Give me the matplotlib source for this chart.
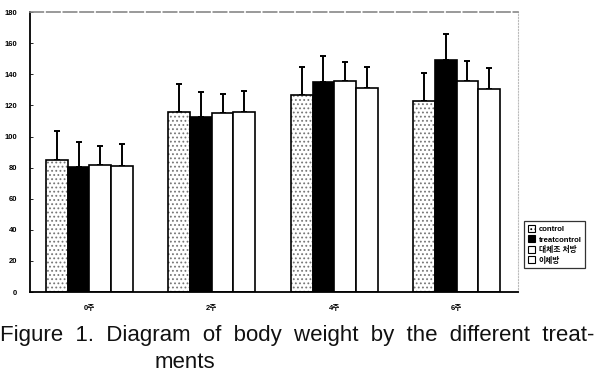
#!/usr/bin/env python3
"""Body weight by treatment: grouped bars with SD whiskers, scanned-figure look."""

import matplotlib
matplotlib.use("Agg")
import matplotlib.pyplot as plt
from matplotlib.patches import Patch
import numpy as np

# -------- Data ------------------------------------------------------------ #

weeks = ["0주", "2주", "4주", "6주"]
series_names = ["control", "treatcontrol", "대체초 처방", "이체방"]

control = [85, 116, 127, 123]
treat_control = [80.5, 112.5, 135, 149]
treat_a = [82, 115, 136, 136]
treat_b = [81, 115.5, 131, 130.5]

control_sd = [18.5, 18, 18, 18]
treat_control_sd = [16, 16, 17, 17]
treat_a_sd = [12, 12.5, 12, 12.5]
treat_b_sd = [14.5, 13.5, 14, 13.5]

y_ticks = [0, 20, 40, 60, 80, 100, 120, 140, 160, 180]

# -------- Styling --------------------------------------------------------- #

plt.rcParams["font.family"] = ["Liberation Sans", "Noto Sans CJK KR", "DejaVu Sans"]
plt.rcParams["hatch.linewidth"] = 0.8

STYLES = [
    dict(facecolor="white", hatch="....", hatch_color="#777777"),
    dict(facecolor="black", hatch=None, hatch_color=None),
    dict(facecolor="white", hatch=None, hatch_color=None),
    dict(facecolor="white", hatch=None, hatch_color=None),
]


def main() -> None:
    fig = plt.figure(figsize=(5.98, 3.92), dpi=100)
    ax = fig.add_axes([0.050, 0.255, 0.816, 0.714])

    values = [control, treat_control, treat_a, treat_b]
    errors = [control_sd, treat_control_sd, treat_a_sd, treat_b_sd]
    x = np.arange(len(weeks))
    width = 0.177

    for i, (vals, errs, st) in enumerate(zip(values, errors, STYLES)):
        pos = x + (i - 1.5) * width
        bars = ax.bar(pos, vals, width=width, color=st["facecolor"],
                      edgecolor="black", linewidth=1.2, zorder=2)
        if st["hatch"]:
            for b in bars:
                b.set_hatch(st["hatch"])
                b._hatch_color = matplotlib.colors.to_rgba(st["hatch_color"])
        ax.errorbar(pos, vals, yerr=[np.zeros(len(errs)), errs], fmt="none",
                    ecolor="black", elinewidth=1.4, capsize=2, capthick=1.4,
                    zorder=1)

    ax.set_xlim(-0.486, 3.50)
    ax.set_ylim(0, 180)
    ax.set_yticks(y_ticks)
    ax.set_yticklabels([str(t) for t in y_ticks], fontsize=5.5, fontweight="bold")
    ax.set_xticks(x)
    ax.set_xticklabels(weeks, fontsize=5.5, fontweight="bold")
    ax.tick_params(axis="y", direction="in", length=2, width=0.6, pad=9)
    ax.tick_params(axis="x", length=0, pad=9)

    ax.spines["left"].set_linewidth(1.3)
    ax.spines["bottom"].set_linewidth(1.3)
    ax.spines["top"].set_color("#888888")
    ax.spines["top"].set_linestyle((0, (8, 2)))
    ax.spines["top"].set_linewidth(1.2)
    ax.spines["right"].set_color("#bbbbbb")
    ax.spines["right"].set_linestyle(":")
    ax.spines["right"].set_linewidth(0.8)

    handles = []
    for name, st in zip(series_names, STYLES):
        handles.append(Patch(facecolor=st["facecolor"], edgecolor="black",
                             hatch=st["hatch"], linewidth=0.8, label=name))
    leg = fig.legend(handles=handles, loc="upper left",
                     bbox_to_anchor=(0.870, 0.445), fontsize=5.6,
                     frameon=True, fancybox=False, edgecolor="black",
                     handlelength=1.0, handleheight=1.0, handletextpad=0.4,
                     labelspacing=0.3, borderpad=0.45)
    leg.get_frame().set_linewidth(0.9)
    for t in leg.get_texts():
        t.set_fontweight("bold")

    fig.text(0.0, 0.145,
             "Figure  1.  Diagram  of  body  weight  by  the  different  treat-",
             fontsize=16, ha="left", va="center", color="#111111")
    fig.text(0.258, 0.076, "ments", fontsize=16, ha="left", va="center",
             color="#111111")

    fig.savefig("out.png", dpi=100)


if __name__ == "__main__":
    main()
